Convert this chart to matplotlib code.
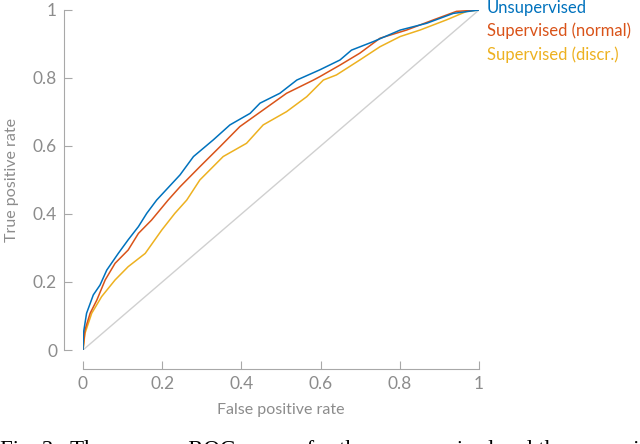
import numpy as np
import matplotlib
matplotlib.use('Agg')
import matplotlib.pyplot as plt

# ROC points (false positive rate, true positive rate)
fpr_unsup = [0.0, 0.001, 0.009, 0.026, 0.043, 0.060, 0.089, 0.114, 0.140, 0.161, 0.186,
             0.245, 0.279, 0.329, 0.371, 0.422, 0.447, 0.497, 0.540, 0.598, 0.649, 0.678,
             0.733, 0.801, 0.868, 0.935, 1.0]
tpr_unsup = [0.0, 0.049, 0.108, 0.162, 0.191, 0.235, 0.284, 0.324, 0.363, 0.402, 0.441,
             0.515, 0.569, 0.618, 0.662, 0.696, 0.726, 0.755, 0.794, 0.824, 0.853, 0.882,
             0.907, 0.941, 0.961, 0.990, 1.0]

fpr_norm = [0.0, 0.005, 0.018, 0.035, 0.056, 0.081, 0.114, 0.140, 0.173, 0.215, 0.245,
            0.295, 0.346, 0.396, 0.455, 0.514, 0.582, 0.598, 0.649, 0.699, 0.750, 0.817,
            0.885, 0.943, 1.0]
tpr_norm = [0.0, 0.059, 0.108, 0.147, 0.206, 0.255, 0.294, 0.343, 0.382, 0.441, 0.480,
            0.539, 0.598, 0.657, 0.706, 0.755, 0.794, 0.804, 0.838, 0.873, 0.917, 0.941,
            0.971, 0.996, 1.0]

fpr_discr = [0.0, 0.005, 0.022, 0.047, 0.081, 0.114, 0.157, 0.199, 0.232, 0.262, 0.295,
             0.354, 0.413, 0.455, 0.514, 0.565, 0.607, 0.640, 0.699, 0.750, 0.801, 0.851,
             0.918, 0.969, 1.0]
tpr_discr = [0.0, 0.049, 0.108, 0.157, 0.206, 0.245, 0.284, 0.353, 0.402, 0.441, 0.500,
             0.569, 0.608, 0.662, 0.701, 0.745, 0.794, 0.809, 0.853, 0.892, 0.922, 0.941,
             0.971, 0.996, 1.0]

labels = ['Unsupervised', 'Supervised (normal)', 'Supervised (discr.)']
colors = ['#0072BD', '#D95319', '#EDB120']
ticks = [0, 0.2, 0.4, 0.6, 0.8, 1]
tick_labels = ['0', '0.2', '0.4', '0.6', '0.8', '1']

gray = '#8c8c8c'
plt.rcParams['font.family'] = ['Lato', 'DejaVu Sans']

fig = plt.figure(figsize=(6.4, 4.44), dpi=100)
ax = fig.add_axes([83/640, 94/444, 396/640, 340/444])

ax.plot([0, 1], [0, 1], color='#d0d0d0', lw=1.0, zorder=1)
series = [(fpr_unsup, tpr_unsup), (fpr_norm, tpr_norm), (fpr_discr, tpr_discr)]
for (x, y), c in zip(series[::-1], colors[::-1]):
    ax.plot(x, y, color=c, lw=1.1, zorder=2)

ax.set_xlim(0, 1)
ax.set_ylim(0, 1)
ax.set_xticks(ticks)
ax.set_xticklabels(tick_labels)
ax.set_yticks(ticks)
ax.set_yticklabels(tick_labels)

for s in ['top', 'right']:
    ax.spines[s].set_visible(False)
for s in ['left', 'bottom']:
    ax.spines[s].set_position(('outward', 13.7))
    ax.spines[s].set_color('#a8a8a8')
    ax.spines[s].set_bounds(0, 1)
ax.tick_params(direction='in', length=5.5, width=0.8, color='#a8a8a8',
               labelcolor=gray, labelsize=12.5, pad=5)

ax.set_xlabel('False positive rate', color=gray, fontsize=11.5, labelpad=8)
ax.set_ylabel('True positive rate', color=gray, fontsize=11.5, labelpad=10)

yl = [1.006, 0.938, 0.868]
for lab, c, yy in zip(labels, colors, yl):
    ax.text(1.02, yy, lab, color=c, fontsize=12, va='center', ha='left',
            transform=ax.transAxes, clip_on=False)

# caption of the source figure, cut off at the bottom edge like in the source
fig.text(0.0, -12/444, 'Fig. 3.  The average ROC curves for the unsupervised and the supervised',
         family='Liberation Serif', fontsize=16.5, color='black', va='baseline', ha='left')

fig.savefig('out.png', dpi=100)
